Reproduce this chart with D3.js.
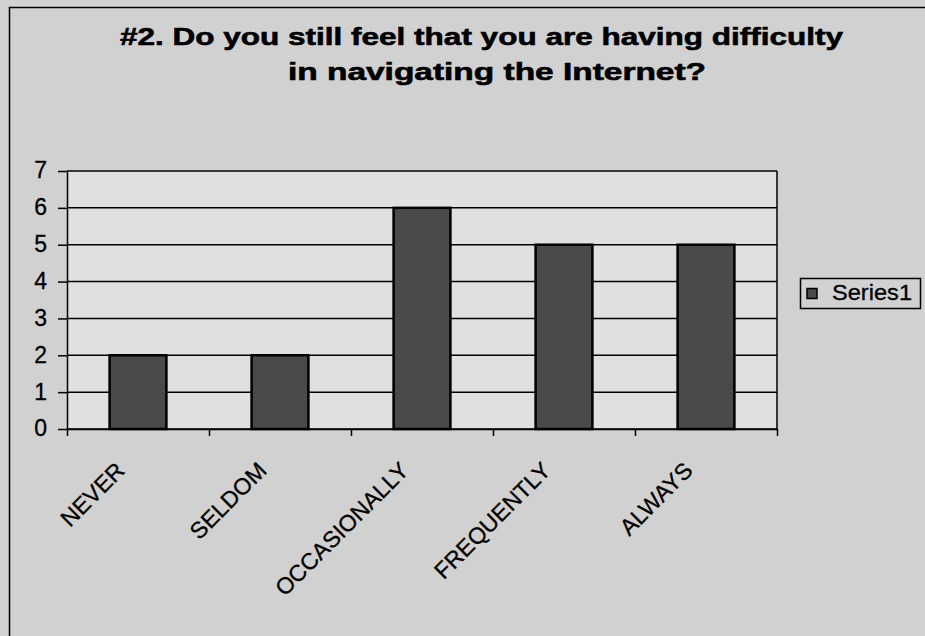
<!DOCTYPE html>
<html>
<head>
<meta charset="utf-8">
<script src="https://cdn.jsdelivr.net/npm/d3@7/dist/d3.min.js"></script>
<style>
  html, body { margin: 0; padding: 0; background: #d3d3d3; }
  svg { display: block; font-family: "Liberation Sans", Arial, sans-serif; }
</style>
</head>
<body>
<svg id="chart" width="925" height="636"></svg>
<script>
// Survey answers and response counts
const categories = ["NEVER", "SELDOM", "OCCASIONALLY", "FREQUENTLY", "ALWAYS"];
const series1 = [2, 2, 6, 5, 5];
const yTicks = [0, 1, 2, 3, 4, 5, 6, 7];
const seriesName = "Series1";
const titleLines = ["#2. Do you still feel that you are having difficulty",
                    "in navigating the Internet?"];

const W = 925, H = 636;
const plot = { left: 67, right: 777, top: 171, bottom: 429 };

const svg = d3.select("#chart");

// Chart area background and frame
svg.append("rect").attr("x", 0).attr("y", 0).attr("width", W).attr("height", H)
  .attr("fill", "#d1d1d1");
svg.append("rect").attr("x", 9.5).attr("y", 7.5).attr("width", 1000).attr("height", 1000)
  .attr("fill", "none").attr("stroke", "#000").attr("stroke-width", 1.5);

// Title (two centred lines, wide bold face)
const titleSpec = [
  { x0: 120, x1: 843, y: 45 },
  { x0: 288, x1: 706, y: 80 }
];
titleLines.forEach((t, i) => {
  const s = titleSpec[i];
  svg.append("text")
    .attr("x", s.x0).attr("y", s.y)
    .attr("textLength", s.x1 - s.x0)
    .attr("lengthAdjust", "spacingAndGlyphs")
    .attr("font-size", 24).attr("font-weight", "bold")
    .attr("fill", "#000").attr("stroke", "#000").attr("stroke-width", 0.6)
    .text(t);
});

// Scales
const y = d3.scaleLinear().domain([0, 7]).range([plot.bottom, plot.top]);
const x = d3.scaleBand().domain(categories).range([plot.left, plot.right])
  .paddingInner(0.6).paddingOuter(0.3);
const xEdge = d3.scaleLinear().domain([0, categories.length]).range([plot.left, plot.right]);

// Plot area
svg.append("rect")
  .attr("x", plot.left).attr("y", plot.top)
  .attr("width", plot.right - plot.left).attr("height", plot.bottom - plot.top)
  .attr("fill", "#e0e0e0");

// Horizontal gridlines
svg.append("g").selectAll("line").data(yTicks).join("line")
  .attr("x1", plot.left).attr("x2", plot.right)
  .attr("y1", d => y(d)).attr("y2", d => y(d))
  .attr("stroke", "#000").attr("stroke-width", 1.5);

// Right edge of plot area
svg.append("line")
  .attr("x1", plot.right).attr("x2", plot.right)
  .attr("y1", plot.top).attr("y2", plot.bottom)
  .attr("stroke", "#000").attr("stroke-width", 1.5);

// Bars
svg.append("g").selectAll("rect").data(series1).join("rect")
  .attr("x", (d, i) => x(categories[i]))
  .attr("y", d => y(d))
  .attr("width", x.bandwidth())
  .attr("height", d => y(0) - y(d))
  .attr("fill", "#4a4a4a")
  .attr("stroke", "#000").attr("stroke-width", 2.5);

// Y axis
const yAxis = svg.append("g")
  .attr("transform", `translate(${plot.left},0)`)
  .call(d3.axisLeft(y).tickValues(yTicks).tickFormat(d3.format("d"))
    .tickSize(9).tickSizeOuter(0).tickPadding(11));
yAxis.selectAll("path, line").attr("stroke", "#000").attr("stroke-width", 1.5);
yAxis.selectAll("text").attr("font-size", 23).attr("fill", "#000")
  .attr("stroke", "#000").attr("stroke-width", 0.3)
  .attr("font-family", "'Liberation Sans', Arial, sans-serif").attr("dy", "0.3em");

// X axis with ticks between categories
const xAxis = svg.append("g")
  .attr("transform", `translate(0,${plot.bottom})`)
  .call(d3.axisBottom(xEdge).ticks(categories.length).tickFormat("")
    .tickSize(7).tickSizeOuter(0));
xAxis.selectAll("path, line").attr("stroke", "#000").attr("stroke-width", 1.5);

// Category labels, rotated
svg.append("g").selectAll("text").data(categories).join("text")
  .attr("transform", d => `translate(${x(d) + x.bandwidth() / 2 - 12},472) rotate(-45)`)
  .attr("text-anchor", "end")
  .attr("font-size", 23)
  .attr("fill", "#000").attr("stroke", "#000").attr("stroke-width", 0.3)
  .text(d => d);

// Legend
const lg = svg.append("g");
lg.append("rect").attr("x", 800.5).attr("y", 278.5).attr("width", 120).attr("height", 30)
  .attr("fill", "#d1d1d1").attr("stroke", "#000").attr("stroke-width", 1.5);
lg.append("rect").attr("x", 807).attr("y", 288.5).attr("width", 10).attr("height", 10)
  .attr("fill", "#4a4a4a").attr("stroke", "#000").attr("stroke-width", 1.5);
lg.append("text").attr("x", 832).attr("y", 300)
  .attr("textLength", 80).attr("lengthAdjust", "spacingAndGlyphs")
  .attr("font-size", 22).attr("fill", "#000").attr("stroke", "#000").attr("stroke-width", 0.3)
  .text(seriesName);
</script>
</body>
</html>
